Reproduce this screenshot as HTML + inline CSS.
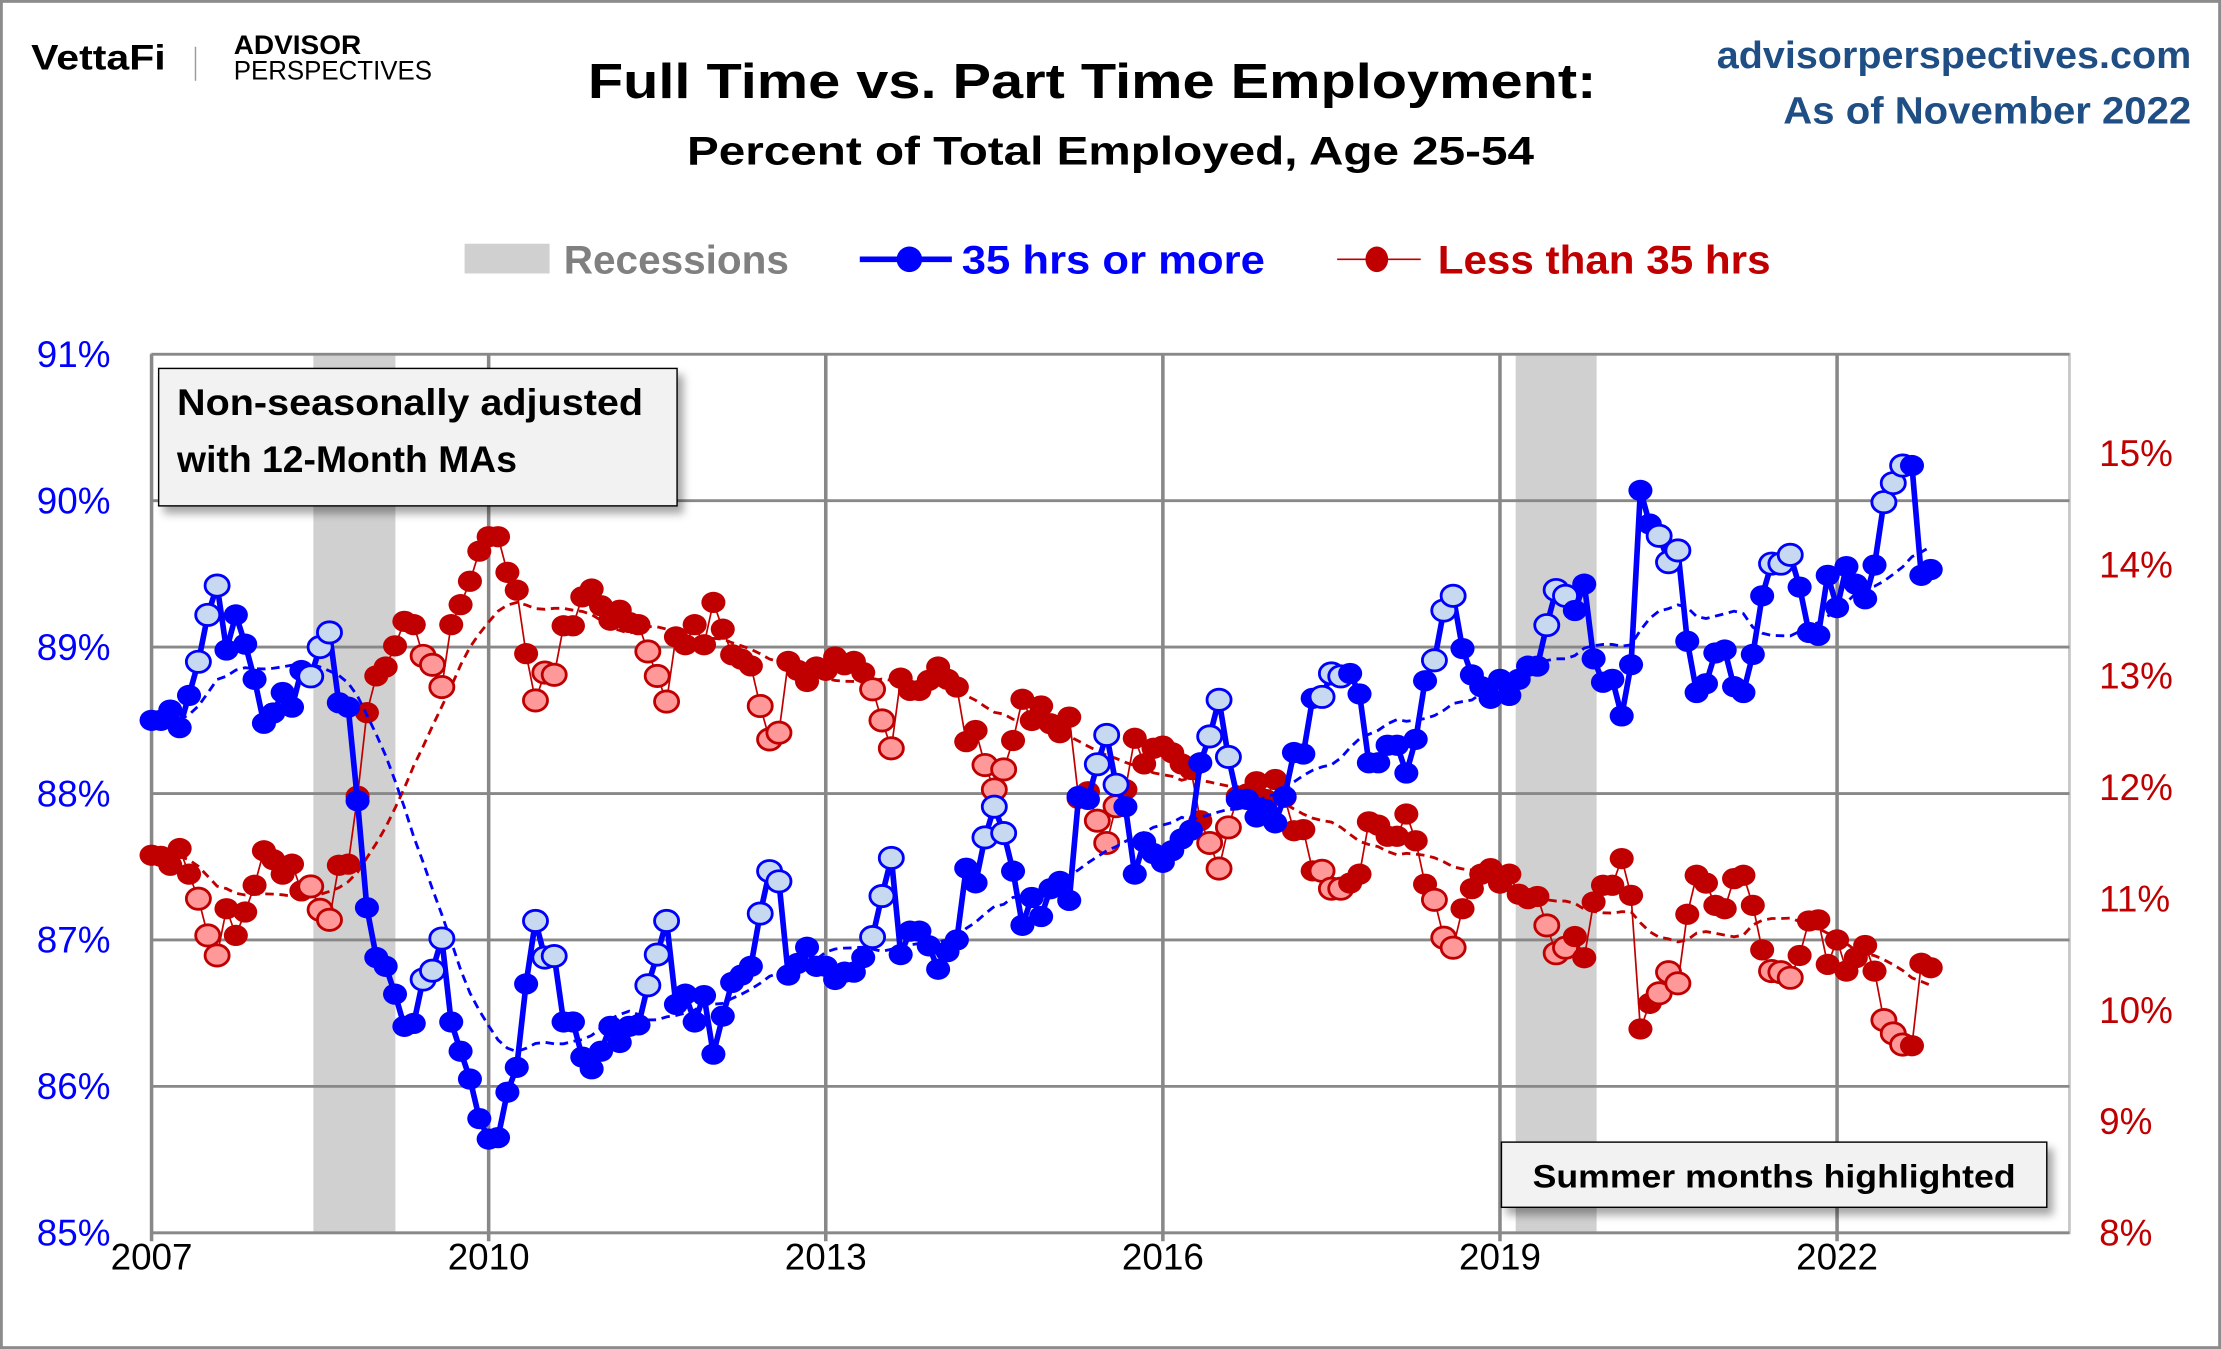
<!DOCTYPE html>
<html><head><meta charset="utf-8"><style>
html,body{margin:0;padding:0;background:#fff}
svg{display:block}
text{font-family:"Liberation Sans",sans-serif}
</style></head><body>
<svg id="chart" width="2221" height="1349" viewBox="0 0 1568 952" preserveAspectRatio="none" xmlns="http://www.w3.org/2000/svg">
<defs>
<filter id="sh" x="-10%" y="-10%" width="130%" height="150%"><feDropShadow dx="4" dy="5" stdDeviation="3" flood-color="#000" flood-opacity="0.35"/></filter>
</defs>
<rect x="1" y="1" width="1566" height="950" fill="#fff" stroke="#8c8c8c" stroke-width="2"/>
<g>
<text x="22" y="49" font-size="25" font-weight="bold" textLength="95" lengthAdjust="spacingAndGlyphs">VettaFi</text>
<line x1="138" y1="33" x2="138" y2="57" stroke="#999" stroke-width="1"/>
<text x="165" y="38" font-size="19" font-weight="bold" textLength="90" lengthAdjust="spacingAndGlyphs">ADVISOR</text>
<text x="165" y="56" font-size="19" textLength="140" lengthAdjust="spacingAndGlyphs">PERSPECTIVES</text>
</g>
<text x="415" y="69" font-size="35" font-weight="bold" textLength="712" lengthAdjust="spacingAndGlyphs">Full Time vs. Part Time Employment:</text>
<text x="485" y="116" font-size="28" font-weight="bold" textLength="598" lengthAdjust="spacingAndGlyphs">Percent of Total Employed, Age 25-54</text>
<text x="1212" y="48" font-size="27" font-weight="bold" fill="#1f4e85" textLength="335" lengthAdjust="spacingAndGlyphs">advisorperspectives.com</text>
<text x="1259" y="87" font-size="27" font-weight="bold" fill="#1f4e85" textLength="288" lengthAdjust="spacingAndGlyphs">As of November 2022</text>
<g>
<rect x="328" y="172" width="60" height="21" fill="#d0d0d0"/>
<text x="398" y="193" font-size="28" font-weight="bold" fill="#808080" textLength="159" lengthAdjust="spacingAndGlyphs">Recessions</text>
<line x1="607" y1="183" x2="672" y2="183" stroke="#0000ff" stroke-width="4"/>
<ellipse cx="642" cy="183" rx="9" ry="9" fill="#0000ff"/>
<text x="679" y="193" font-size="28" font-weight="bold" fill="#0000ff" textLength="214" lengthAdjust="spacingAndGlyphs">35 hrs or more</text>
<line x1="944" y1="183" x2="1003" y2="183" stroke="#c00000" stroke-width="1.2"/>
<ellipse cx="972" cy="183" rx="8" ry="9" fill="#c00000"/>
<text x="1015" y="193" font-size="28" font-weight="bold" fill="#c00000" textLength="235" lengthAdjust="spacingAndGlyphs">Less than 35 hrs</text>
</g>
<g id="plot"></g>
<g>
<rect x="112" y="260" width="366" height="97" fill="#f2f2f2" stroke="#000" stroke-width="1" filter="url(#sh)"/>
<text x="125" y="293" font-size="26" font-weight="bold" textLength="329" lengthAdjust="spacingAndGlyphs">Non-seasonally adjusted</text>
<text x="125" y="333" font-size="26" font-weight="bold" textLength="240" lengthAdjust="spacingAndGlyphs">with 12-Month MAs</text>
</g>
<g>
<rect x="1060" y="806" width="385" height="46" fill="#f2f2f2" stroke="#000" stroke-width="1" filter="url(#sh)"/>
<text x="1082" y="838" font-size="23" font-weight="bold" textLength="341" lengthAdjust="spacingAndGlyphs">Summer months highlighted</text>
</g>
</svg>
<script>
const fullTime = [88.50,88.50,88.57,88.45,88.67,88.90,89.22,89.42,88.98,89.22,89.02,88.78,
88.48,88.55,88.69,88.59,88.84,88.80,89.00,89.10,88.62,88.59,87.95,87.22,
86.88,86.82,86.63,86.41,86.43,86.73,86.79,87.01,86.44,86.24,86.05,85.78,
85.64,85.65,85.96,86.13,86.70,87.13,86.88,86.89,86.44,86.44,86.20,86.12,
86.24,86.41,86.30,86.41,86.42,86.69,86.90,87.13,86.56,86.63,86.44,86.62,
86.22,86.48,86.71,86.76,86.82,87.18,87.47,87.40,86.76,86.84,86.95,86.82,
86.82,86.73,86.78,86.78,86.88,87.02,87.30,87.56,86.90,87.06,87.06,86.96,
86.80,86.92,87.00,87.49,87.39,87.70,87.91,87.73,87.47,87.10,87.29,87.16,
87.35,87.40,87.27,87.98,87.96,88.20,88.40,88.06,87.91,87.45,87.67,87.59,
87.53,87.61,87.69,87.75,88.21,88.39,88.64,88.25,87.96,87.96,87.84,87.89,
87.80,87.98,88.28,88.27,88.65,88.66,88.82,88.80,88.82,88.68,88.21,88.21,
88.33,88.33,88.14,88.37,88.77,88.91,89.25,89.35,88.99,88.81,88.73,88.65,
88.78,88.67,88.78,88.87,88.87,89.15,89.39,89.35,89.25,89.43,88.92,88.76,
88.78,88.53,88.88,90.07,89.84,89.76,89.58,89.66,89.04,88.69,88.75,88.96,
88.98,88.73,88.69,88.95,89.35,89.57,89.57,89.63,89.41,89.10,89.08,89.49,
89.27,89.55,89.43,89.33,89.56,89.99,90.12,90.24,90.24,89.49,89.53];
const partTime = [11.39,11.38,11.30,11.45,11.22,11.00,10.67,10.49,10.91,10.67,10.88,11.12,
11.43,11.35,11.22,11.31,11.07,11.11,10.90,10.81,11.30,11.31,11.92,12.67,
13.00,13.08,13.27,13.49,13.46,13.18,13.10,12.90,13.46,13.64,13.85,14.12,
14.25,14.25,13.93,13.77,13.20,12.78,13.03,13.01,13.45,13.45,13.71,13.78,
13.63,13.50,13.59,13.48,13.46,13.22,13.00,12.77,13.35,13.28,13.46,13.28,
13.66,13.42,13.19,13.15,13.09,12.73,12.43,12.49,13.13,13.05,12.95,13.08,
13.05,13.17,13.10,13.13,13.03,12.88,12.60,12.35,12.98,12.87,12.87,12.96,
13.08,12.97,12.90,12.41,12.51,12.20,11.98,12.16,12.42,12.79,12.60,12.73,
12.57,12.49,12.63,11.90,11.96,11.70,11.50,11.83,11.98,12.44,12.21,12.35,
12.37,12.31,12.21,12.16,11.70,11.50,11.27,11.64,11.92,11.94,12.05,11.89,
12.07,11.91,11.61,11.62,11.25,11.25,11.09,11.09,11.14,11.22,11.69,11.66,
11.56,11.56,11.76,11.52,11.13,10.99,10.65,10.56,10.91,11.09,11.22,11.27,
11.14,11.22,11.04,11.00,11.02,10.76,10.51,10.56,10.66,10.47,10.97,11.12,
11.12,11.36,11.03,9.83,10.06,10.15,10.34,10.24,10.86,11.21,11.14,10.94,
10.91,11.18,11.21,10.94,10.54,10.35,10.34,10.29,10.49,10.80,10.81,10.41,
10.63,10.35,10.47,10.58,10.35,9.91,9.79,9.69,9.68,10.42,10.38];
const startYear = 2007;
const leftTicks = [85,86,87,88,89,90,91];
const leftTickLabels = ["85%","86%","87%","88%","89%","90%","91%"];
const rightTicks = [8,9,10,11,12,13,14,15];
const rightTickLabels = ["8%","9%","10%","11%","12%","13%","14%","15%"];
const xTicks = [2007,2010,2013,2016,2019,2022];
const xTickLabels = ["2007","2010","2013","2016","2019","2022"];
const recessionStarts = [2008.44,2019.14];
const recessionEnds = [2009.17,2019.86];
const summerMonths = [5,6,7];

const NS="http://www.w3.org/2000/svg";
const P={l:107,r:1461,t:250,b:870};
const xs=yr=>P.l+(yr-2007)*79.33;
const yL=v=>P.b-(v-85)*(P.b-P.t)/6;
const yR=v=>870-(v-8)*78.6;
const plot=document.getElementById('plot');
function mk(tag,attrs,parent){const e=document.createElementNS(NS,tag);for(const k in attrs)e.setAttribute(k,attrs[k]);(parent||plot).appendChild(e);return e;}
const monthX=i=>xs(startYear+i/12);

recessionStarts.forEach((s,k)=>{
 const r=mk('rect',{x:xs(s),y:P.t,width:xs(recessionEnds[k])-xs(s),height:P.b-P.t,fill:'#d0d0d0'});
 
 
});
mk('rect',{x:P.l,y:P.t,width:P.r-P.l,height:P.b-P.t,fill:'none',stroke:'#c8c8c8','stroke-width':2});
leftTicks.forEach((v,k)=>{
 const g=mk('line',{x1:P.l,x2:P.r,y1:yL(v),y2:yL(v),stroke:'#888','stroke-width':2});
 
 
 const t=mk('text',{x:78,y:yL(v)+9,'font-size':26,fill:'#0000ff','text-anchor':'end'});
 t.textContent=leftTickLabels[k];
 
 
});
rightTicks.forEach((v,k)=>{
 const t=mk('text',{x:1482,y:yR(v)+9,'font-size':26,fill:'#c00000'});
 t.textContent=rightTickLabels[k];
 
 
});
xTicks.forEach((v,k)=>{
 const g=mk('line',{x1:xs(v),x2:xs(v),y1:P.t,y2:P.b+6,stroke:'#888','stroke-width':2.5});
 
 
 const t=mk('text',{x:xs(v),y:896,'font-size':26,'text-anchor':'middle'});
 t.textContent=xTickLabels[k];
 
 
});
function ma(arr){return arr.map((_,i)=>{const s=Math.max(0,i-11);const w=arr.slice(s,i+1);return w.reduce((a,b)=>a+b,0)/w.length;});}
function series(arr,ys,color,lw,light,name){
 const pts=arr.map((v,i)=>monthX(i).toFixed(1)+','+ys(v).toFixed(1)).join(' ');
 const m=ma(arr).map((v,i)=>monthX(i).toFixed(1)+','+ys(v).toFixed(1)).join(' ');
 const ml=mk('polyline',{points:m,fill:'none',stroke:color,'stroke-width':2,'stroke-dasharray':'6,4'});
 
 
 const l=mk('polyline',{points:pts,fill:'none',stroke:color,'stroke-width':lw,'stroke-linejoin':'round'});
 
 
 arr.forEach((v,i)=>{
  const s=summerMonths.includes(i%12);
  const c=mk('ellipse',{cx:monthX(i),cy:ys(v),rx:8.5,ry:7.5,fill:s?light:color,stroke:color,'stroke-width':s?2:0});
  
  
 });
}
series(partTime,yR,'#c00000',1.2,'#ff9999','part-time');
series(fullTime,yL,'#0000ff',4,'#c6d9f1','full-time');
</script>
</body></html>
